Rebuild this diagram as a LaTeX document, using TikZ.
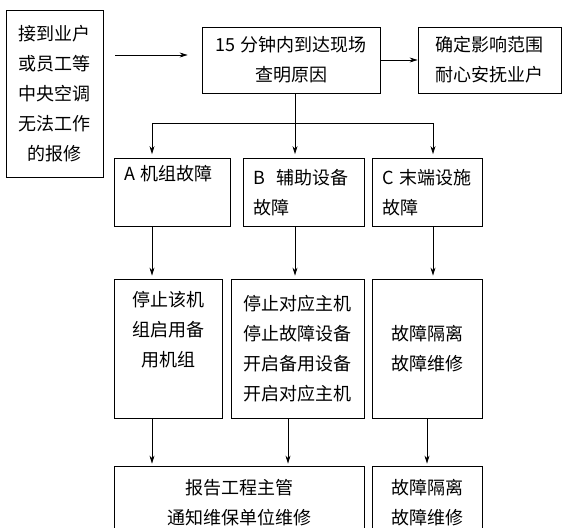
\documentclass[tikz,border=0pt]{standalone}
\usepackage{fontspec}
\setmainfont{Noto Sans CJK SC}
\usetikzlibrary{arrows.meta, positioning, calc}
\tikzset{
  box/.style ={draw, line width=0.8pt, align=center, inner sep=0pt,
               font=\fontsize{18pt}{30pt}\selectfont},
  lbox/.style={box, align=left},
  arr/.style ={-{Stealth[length=8pt, width=5pt]}, line width=0.8pt},
  ln/.style  ={line width=0.8pt},
}
\begin{document}
\begin{tikzpicture}[x=1pt, y=-1pt]
  \useasboundingbox (0,0) rectangle (572,527);

  % top row
  \node[box, minimum width=97pt, minimum height=167pt] (report) at (54.5,93.5)
       {接到业户\\或员工等\\中央空调\\无法工作\\的报修};
  \node[box, minimum width=178pt, minimum height=66pt] (arrive) at (291,60)
       {15 分钟内到达现场\\查明原因};
  \node[box, minimum width=143pt, minimum height=66pt] (calm) at (489.5,60)
       {确定影响范围\\耐心安抚业户};

  % fault types
  \node[lbox, minimum width=116pt, minimum height=68pt, text width=96pt] (unitA) at (172,192.5)
       {A 机组故障\\\strut};
  \node[lbox, minimum width=121pt, minimum height=68pt, text width=101pt] (auxB) at (303.5,192.5)
       {B\ \ 辅助设备\\故障};
  \node[lbox, minimum width=110pt, minimum height=68pt, text width=90pt] (endC) at (427,192.5)
       {C 末端设施\\故障};

  % actions
  \node[box, minimum width=108pt, minimum height=139pt] (stopA) at (168,348.5)
       {停止该机\\组启用备\\用机组\\\strut};
  \node[box, minimum width=133pt, minimum height=139pt] (stopB) at (297.5,348.5)
       {停止对应主机\\停止故障设备\\开启备用设备\\开启对应主机};
  \node[box, minimum width=110pt, minimum height=139pt] (isoC) at (427,348.5)
       {故障隔离\\故障维修};

  % last row (cut off at the bottom)
  \node[box, minimum width=250pt, minimum height=73pt] (notify) at (239,502.5)
       {报告工程主管\\通知维保单位维修};
  \node[box, minimum width=110pt, minimum height=73pt] (fixC) at (427,502.5)
       {故障隔离\\故障维修};

  \coordinate (fork) at (295,123);
  \coordinate (colA) at (152,0);
  \coordinate (colB) at (295,0);
  \coordinate (colC) at (433,0);
  \coordinate (colD) at (288,0);

  \draw[arr, shorten <=12pt, shorten >=14pt]
       ($(report.east |- arrive.west)+(0,-5)$) -- ($(arrive.west)+(0,-5)$);
  \draw[arr] (arrive) -- (calm);

  \draw[ln] (arrive.south -| fork) -- (fork);
  \draw[ln] (colA |- fork) -- (colC |- fork);
  \foreach \c/\n in {colA/unitA, colB/auxB, colC/endC}
    \draw[arr, shorten >=4pt] (\c |- fork) -- (\c |- \n.north);

  \foreach \c/\a/\b in {colA/unitA/stopA, colB/auxB/stopB, colC/endC/isoC}
    \draw[arr, shorten >=3pt] (\c |- \a.south) -- (\c |- \b.north);

  \draw[arr, shorten >=2pt] (colA |- stopA.south) -- (colA |- notify.north);
  \draw[arr, shorten >=2pt] (colD |- stopB.south) -- (colD |- notify.north);
  \draw[arr, shorten >=2pt] (isoC) -- (fixC);
\end{tikzpicture}
\end{document}
